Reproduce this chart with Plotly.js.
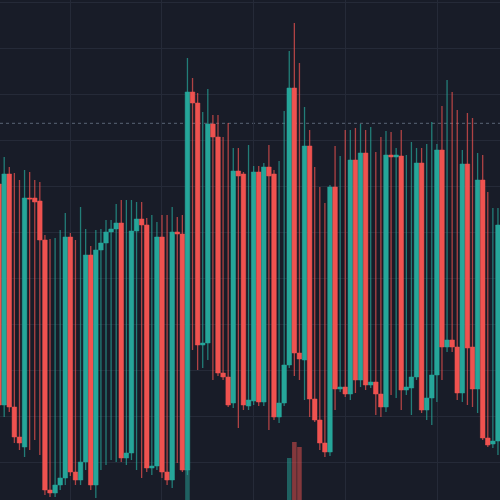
<!DOCTYPE html>
<html>
<head>
<meta charset="utf-8">
<script src="https://cdn.plot.ly/plotly-3.0.1.min.js"></script>
<style>html,body{margin:0;padding:0;background:#181c28;}#chart{width:500px;height:500px;}</style>
</head>
<body>
<div id="chart"></div>
<script>
// candle index positions (first candle is partly cut at the left edge)
const candleIndex = [];
for (let k = -1; k <= 97; k++) candleIndex.push(k);

const openPrices = [316,95,326,93,63,53,302,302,299,260,10,7,15,22,263,28,20,38,245,15,250,257,268,271,277,42,47,269,281,275,32,34,263,28,20,268,266,30,408,397,155,157,376,363,127,123,97,329,326,94,99,328,98,333,326,83,97,135,412,147,140,354,101,80,57,48,313,111,113,106,340,120,347,115,118,106,93,345,343,344,110,112,123,337,90,102,125,350,153,160,153,107,336,153,111,320,62,56,59];
const highPrices = [322,343,333,327,320,330,328,320,318,265,261,262,270,287,267,260,293,271,254,270,271,280,280,296,300,300,300,298,298,282,285,278,285,285,293,283,285,442,422,407,388,411,385,385,363,377,352,352,328,355,334,334,337,355,330,339,389,449,477,437,393,370,333,313,297,315,354,344,370,370,372,376,370,373,348,363,369,368,352,370,345,358,352,352,356,378,356,394,420,408,390,350,387,382,347,345,308,292,292];
const lowPrices = [90,83,88,57,50,43,50,60,45,5,3,3,10,15,24,15,15,30,10,2,30,35,40,38,38,35,40,30,22,28,25,30,22,15,12,37,28,25,150,130,132,140,120,124,120,93,92,72,90,90,95,94,94,70,80,77,94,132,124,120,100,83,78,50,43,44,90,108,103,100,107,113,110,112,85,83,88,105,102,90,105,85,120,87,80,75,98,120,148,148,100,98,95,93,87,60,53,52,45];
const closePrices = [95,326,93,63,57,302,301,298,260,10,7,15,22,263,28,20,38,245,15,250,257,268,271,277,42,47,269,281,275,32,34,263,28,20,268,266,30,408,397,155,157,376,363,127,123,95,329,324,95,100,328,98,333,324,83,97,135,412,147,141,354,101,80,57,48,313,111,113,106,340,120,347,115,118,106,93,345,343,345,110,113,123,337,90,102,125,350,153,160,153,107,336,152,111,320,62,55,59,275];
const volumes = [60,85,70,55,48,90,40,52,66,95,58,45,50,88,72,40,47,80,75,92,44,50,38,61,86,42,78,55,49,83,46,74,69,41,87,57,93,182,64,101,58,110,67,53,49,72,98,55,90,43,95,62,104,47,88,54,112,204,236,226,99,105,61,50,45,97,84,48,52,100,76,96,82,44,57,63,108,41,45,92,39,50,103,86,47,58,113,94,56,49,70,102,88,65,99,107,52,46,111];
const priceLine = 376.7;

const upColor = '#26a69a', downColor = '#ef5350';
const upWick = 'rgba(38,166,154,0.7)', downWick = 'rgba(239,83,80,0.7)';
const bg = '#181c28', grid = '#252a38';

const bodyHigh = openPrices.map((o, i) => Math.max(o, closePrices[i]));
const bodyLow = openPrices.map((o, i) => Math.min(o, closePrices[i]));
const volColors = openPrices.map((o, i) => closePrices[i] >= o ? 'rgba(38,166,154,0.5)' : 'rgba(239,83,80,0.5)');

const traces = [
  { type: 'bar', x: candleIndex, y: volumes, yaxis: 'y2', width: 0.9,
    marker: { color: volColors, line: { width: 0 } }, hoverinfo: 'skip' },
  { type: 'ohlc', x: candleIndex, open: openPrices, high: highPrices, low: lowPrices, close: closePrices,
    tickwidth: 0,
    increasing: { line: { color: upWick, width: 1.3 } },
    decreasing: { line: { color: downWick, width: 1.3 } }, hoverinfo: 'skip' },
  { type: 'candlestick', x: candleIndex, open: openPrices, high: bodyHigh, low: bodyLow, close: closePrices,
    whiskerwidth: 0,
    increasing: { line: { color: upColor, width: 0.5 }, fillcolor: upColor },
    decreasing: { line: { color: downColor, width: 0.5 }, fillcolor: downColor } }
];

const layout = {
  width: 500, height: 500,
  margin: { l: 0, r: 0, t: 0, b: 0 },
  paper_bgcolor: bg, plot_bgcolor: bg,
  showlegend: false,
  boxgap: 0.05, boxgroupgap: 0.05,
  xaxis: { range: [-0.825, 97.4], showgrid: true, gridcolor: grid, gridwidth: 1,
    tick0: 12.95, dtick: 18.02, showticklabels: false, ticks: '', zeroline: false,
    showline: false, rangeslider: { visible: false } },
  yaxis: { range: [0, 500], showgrid: true, gridcolor: grid, gridwidth: 1,
    tick0: 38, dtick: 45.97, showticklabels: false, ticks: '', zeroline: false, showline: false },
  yaxis2: { overlaying: 'y', range: [120, 1120], visible: false, showgrid: false },
  shapes: [{ type: 'line', xref: 'paper', x0: 0, x1: 1, yref: 'y', y0: priceLine, y1: priceLine,
    line: { color: '#5b6676', width: 1, dash: 'dot' }, layer: 'below' }]
};

Plotly.newPlot('chart', traces, layout, { displayModeBar: false, staticPlot: true });
</script>
</body>
</html>
